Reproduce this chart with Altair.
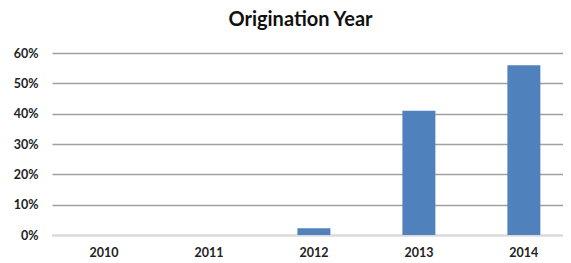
import altair as alt
import pandas as pd

years = ["2010", "2011", "2012", "2013", "2014"]
shares = [0.0, 0.0, 0.022, 0.41, 0.56]
y_ticks = [0, 0.1, 0.2, 0.3, 0.4, 0.5, 0.6]

df = pd.DataFrame({"year": years, "share": shares})

chart = alt.Chart(df).mark_bar(color="#4F81BD").encode(
    x=alt.X("year:N", sort=years, title=None,
            scale=alt.Scale(paddingInner=0.686, paddingOuter=0.2765, align=0.61),
            axis=alt.Axis(labelAngle=0, labelFont="Lato", labelFontWeight="bold",
                          labelFontSize=12.5, labelColor="#222", labelPadding=11,
                          ticks=False, domainColor="#D9D9D9", domainWidth=1.5, grid=False)),
    y=alt.Y("share:Q", title=None,
            scale=alt.Scale(domain=[0, 0.6], nice=False),
            axis=alt.Axis(values=y_ticks, format=".0%", labelFont="Lato",
                          labelFontWeight="bold", labelFontSize=12.5, labelColor="#222",
                          labelPadding=14, ticks=False, domain=False,
                          gridColor="#A0A0A0", gridWidth=1.5)),
).properties(
    width=511, height=182,
    padding={"left": 44, "top": 45, "right": 0, "bottom": 27},
    autosize=alt.AutoSizeParams(type="none"),
    title=alt.TitleParams("Origination Year", font="Lato", fontSize=20,
                          fontWeight="bold", color="#111", anchor="middle",
                          dx=-7, offset=17),
).configure_view(stroke=None)

chart.save("out.html", embed_options={"renderer": "svg", "actions": False})
